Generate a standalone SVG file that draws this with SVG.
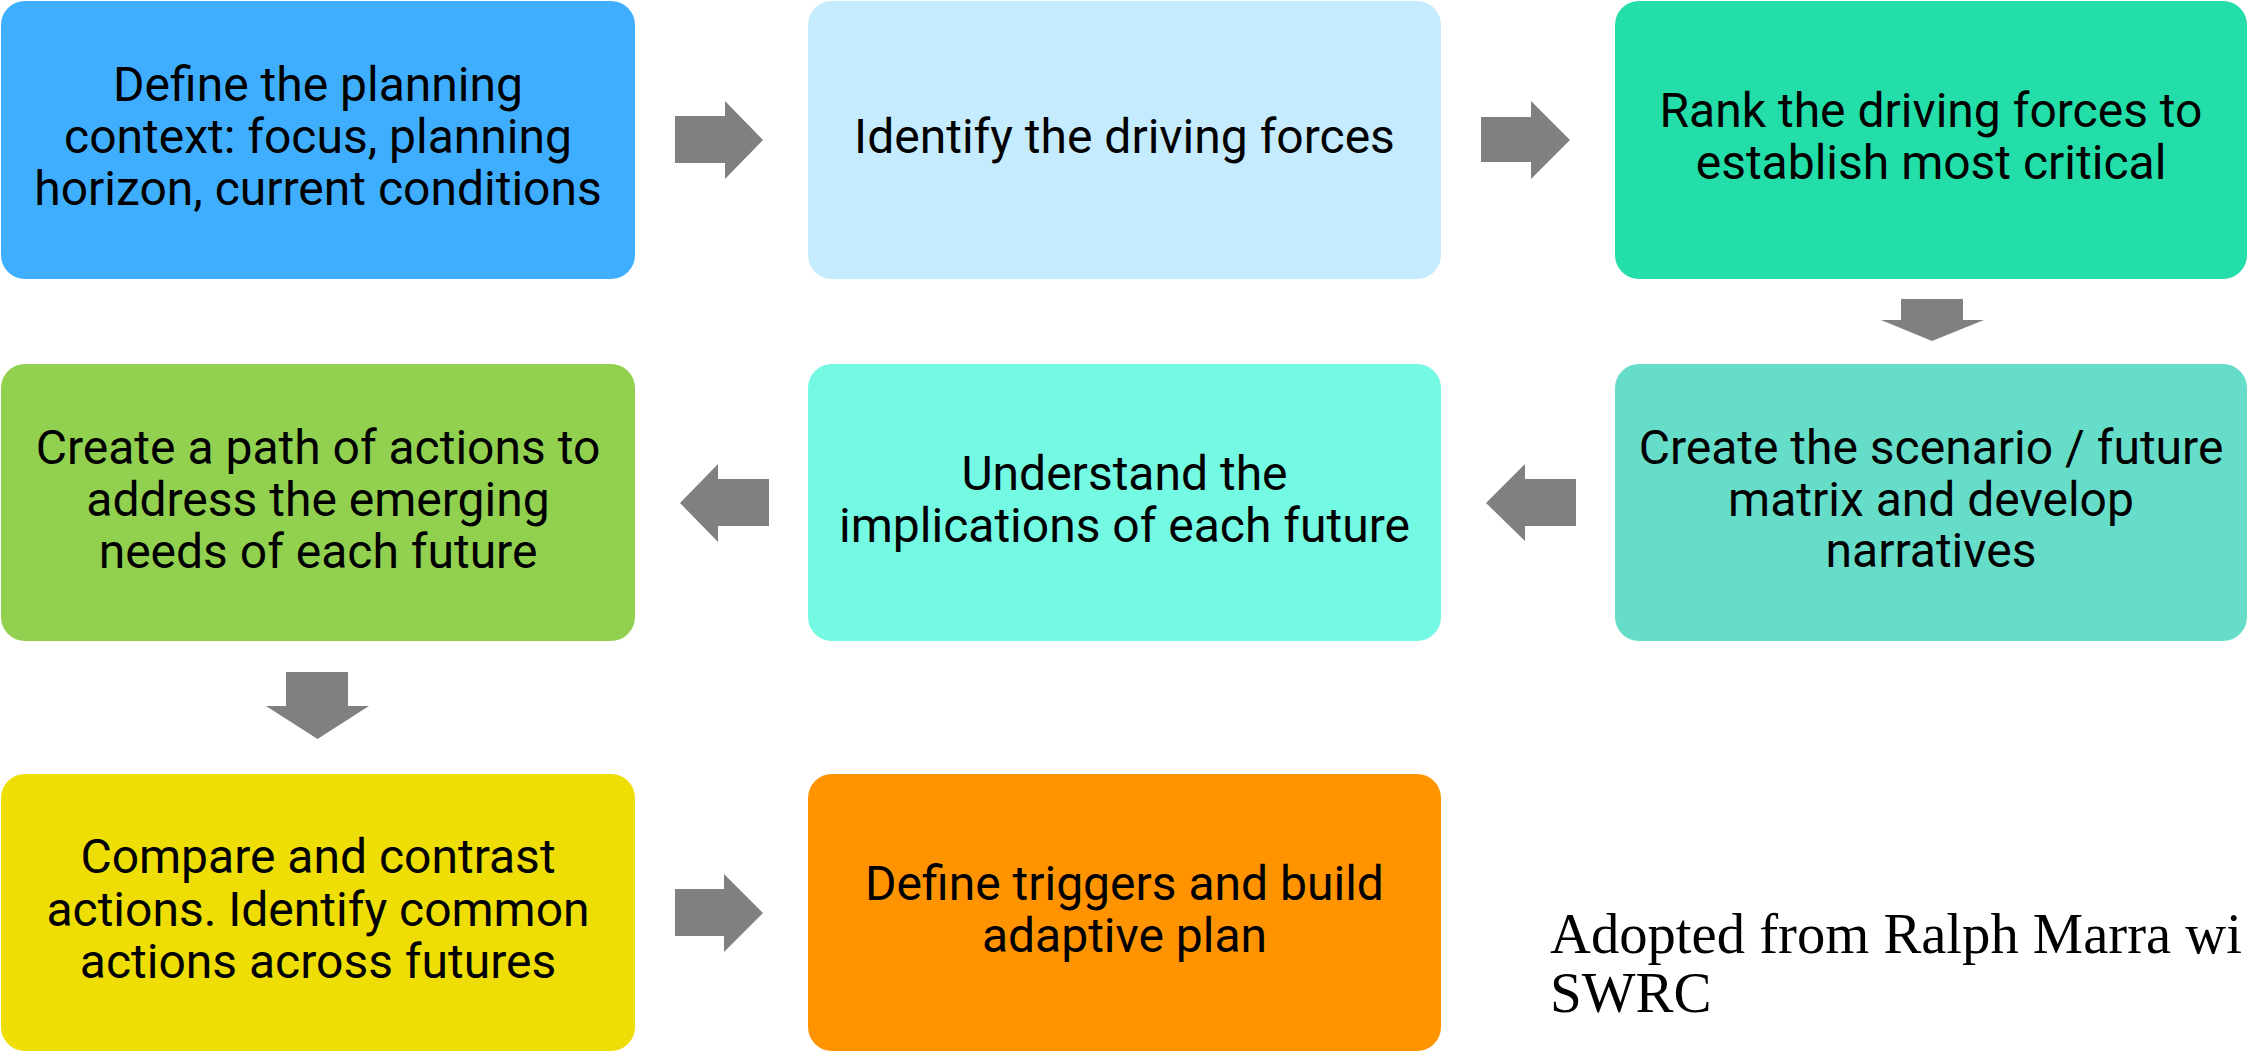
<svg xmlns="http://www.w3.org/2000/svg" width="2247" height="1051" viewBox="0 0 2247 1051">
<style>
.box text{font-family:Roboto,"Liberation Sans",sans-serif;font-size:48px;fill:#000;text-anchor:middle}
.arr{fill:#808080}
.note{font-family:"Liberation Serif","DejaVu Serif",serif;font-size:57px;fill:#000}
</style>
<rect width="2247" height="1051" fill="#fff"/>
<g id="n1" class="box"><rect x="1" y="1" width="634" height="278" rx="24" fill="#3FAEFE"/>
<text x="318" y="101">Define the planning</text><text x="318" y="153">context: focus, planning</text><text x="318" y="205">horizon, current conditions</text></g>
<g id="n2" class="box"><rect x="808" y="1" width="633" height="278" rx="24" fill="#C5ECFE"/>
<text x="1124.5" y="153">Identify the driving forces</text></g>
<g id="n3" class="box"><rect x="1615" y="1" width="632" height="278" rx="24" fill="#23DEA9"/>
<text x="1931" y="127">Rank the driving forces to</text><text x="1931" y="179">establish most critical</text></g>
<g id="n4" class="box"><rect x="1615" y="364" width="632" height="277" rx="24" fill="#66DDC8"/>
<text x="1931" y="464">Create the scenario / future</text><text x="1931" y="516">matrix and develop</text><text x="1931" y="567">narratives</text></g>
<g id="n5" class="box"><rect x="808" y="364" width="633" height="277" rx="24" fill="#74F9E2"/>
<text x="1124.5" y="490">Understand the</text><text x="1124.5" y="542">implications of each future</text></g>
<g id="n6" class="box"><rect x="1" y="364" width="634" height="277" rx="24" fill="#92D050"/>
<text x="318" y="464">Create a path of actions to</text><text x="318" y="516">address the emerging</text><text x="318" y="568">needs of each future</text></g>
<g id="n7" class="box"><rect x="1" y="774" width="634" height="277" rx="24" fill="#EEDE05"/>
<text x="318" y="873">Compare and contrast</text><text x="318" y="926">actions. Identify common</text><text x="318" y="978">actions across futures</text></g>
<g id="n8" class="box"><rect x="808" y="774" width="633" height="277" rx="24" fill="#FF9400"/>
<text x="1124.5" y="900">Define triggers and build</text><text x="1124.5" y="952">adaptive plan</text></g>
<g id="connectors" class="arr">
<polygon points="675,116 725,116 725,101 763,140 725,179 725,163 675,163"/>
<polygon points="1481,117 1531,117 1531,101 1570,140 1531,179 1531,162 1481,162"/>
<polygon points="1901,299 1963,299 1963,320 1984,320 1932,341 1881,320 1901,320"/>
<polygon points="1576,479 1525,479 1525,464 1486,503 1525,541 1525,526 1576,526"/>
<polygon points="769,479 718,479 718,464 680,503 718,542 718,526 769,526"/>
<polygon points="286,672 348,672 348,706 369,706 317.5,739 266,706 286,706"/>
<polygon points="675,889 724,889 724,874 763,913 724,952 724,936 675,936"/>
</g>
<g id="note">
<text class="note" x="1550" y="953" textLength="692" lengthAdjust="spacingAndGlyphs">Adopted from Ralph Marra wi</text>
<text class="note" x="1550" y="1012">SWRC</text>
</g>
</svg>
